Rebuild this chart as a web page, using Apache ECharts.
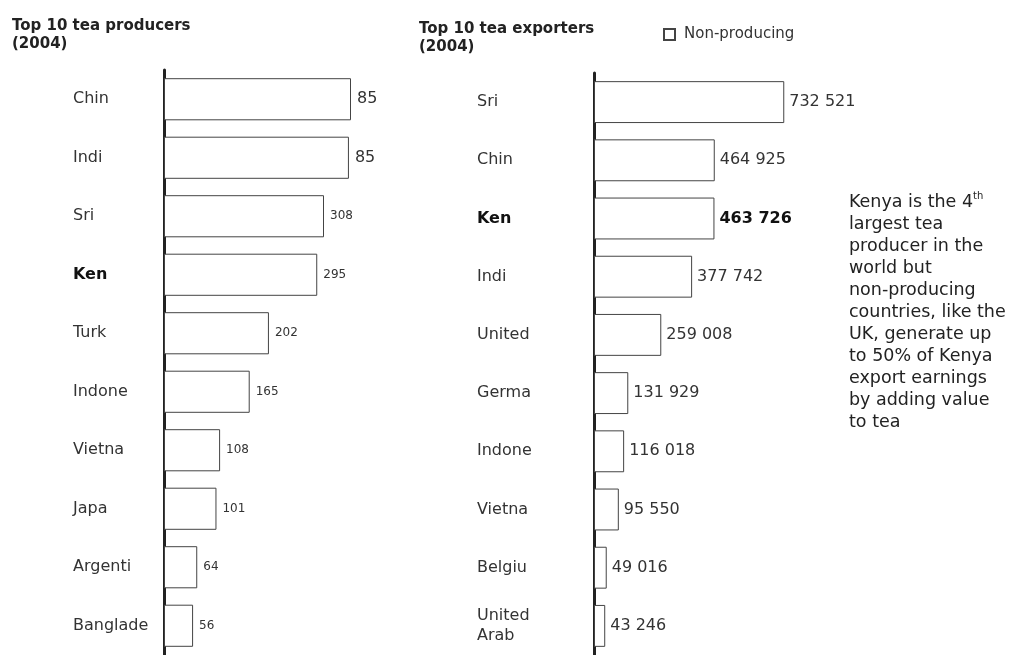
<!DOCTYPE html>
<html>
<head>
    <meta charset="utf-8">
    <title>Top 10 tea producers and exporters</title>
    <script src="https://cdn.jsdelivr.net/npm/echarts@6/dist/echarts.min.js"></script>
</head>
<body style="margin:0;background:#fff;">
    <div id="main" style="width: 1013px;height:655px;"></div>
    <script type="text/javascript">
        var myChart = echarts.init(document.getElementById('main'));

        // producers (2004), bar lengths; printed labels as shown
        var producerNames = ['Chin', 'Indi', 'Sri', 'Ken', 'Turk', 'Indone', 'Vietna', 'Japa', 'Argenti', 'Banglade'];
        var producerValues = [360, 356, 308, 295, 202, 165, 108, 101, 64, 56];
        var producerLabels = ['85', '85', '308', '295', '202', '165', '108', '101', '64', '56'];

        // exporters (2004)
        var exporterNames = ['Sri', 'Chin', 'Ken', 'Indi', 'United', 'Germa', 'Indone', 'Vietna', 'Belgiu', 'United\nArab'];
        var exporterValues = [732521, 464925, 463726, 377742, 259008, 131929, 116018, 95550, 49016, 43246];

        var noteLines = ['Kenya is the 4{sup|th}', 'largest tea', 'producer in the', 'world but', 'non-producing',
            'countries, like the', 'UK, generate up', 'to 50% of Kenya', 'export earnings', 'by adding value', 'to tea'];

        var font = '"DejaVu Sans", Verdana, sans-serif';

        function spaced(v) {
            return String(v).replace(/\B(?=(\d{3})+(?!\d))/g, ' ');
        }

        var barStyle = {
            color: '#fff',
            borderColor: '#444',
            borderWidth: 1
        };

        var titleStyle = { fontSize: 15, fontWeight: 'bold', color: '#222', lineHeight: 18, fontFamily: font };

        option = {
            backgroundColor: '#fff',
            textStyle: { fontFamily: font },
            animation: false,
            title: [{
                text: 'Top 10 tea producers\n(2004)',
                left: 12,
                top: 17,
                padding: 0,
                textStyle: titleStyle
            }, {
                text: 'Top 10 tea exporters\n(2004)',
                left: 419,
                top: 20,
                padding: 0,
                textStyle: titleStyle
            }, {
                text: noteLines.join('\n'),
                left: 849,
                top: 191,
                padding: 0,
                textStyle: {
                    fontSize: 17.5, fontWeight: 'normal', color: '#222', lineHeight: 22, fontFamily: font,
                    rich: { sup: { fontSize: 10, verticalAlign: 'top', lineHeight: 12, color: '#222' } }
                }
            }],
            legend: {
                data: ['Non-producing'],
                left: 663,
                top: 27,
                padding: 0,
                icon: 'rect',
                itemWidth: 11,
                itemHeight: 11,
                itemGap: 6,
                textStyle: { fontSize: 15, color: '#333', fontFamily: font, padding: [0, 0, 0, 4] }
            },
            grid: [{
                left: 164, top: 70, width: 200, height: 586
            }, {
                left: 594, top: 73, width: 200, height: 587
            }],
            xAxis: [{
                type: 'value', min: 0, max: 385, show: false, splitLine: { show: false }
            }, {
                type: 'value', min: 0, max: 770000, gridIndex: 1, show: false, splitLine: { show: false }
            }],
            yAxis: [{
                type: 'category',
                inverse: true,
                data: producerNames,
                axisTick: { show: false },
                axisLine: { lineStyle: { color: '#222', width: 3 } },
                axisLabel: {
                    align: 'left', margin: 91, fontSize: 16, color: '#333', fontFamily: font,
                    formatter: function (v) { return v === 'Ken' ? '{b|' + v + '}' : v; },
                    rich: { b: { fontWeight: 'bold', color: '#111', fontSize: 16 } }
                }
            }, {
                type: 'category',
                inverse: true,
                gridIndex: 1,
                data: exporterNames,
                axisTick: { show: false },
                axisLine: { lineStyle: { color: '#222', width: 3 } },
                axisLabel: {
                    align: 'left', margin: 117, fontSize: 16, color: '#333', lineHeight: 20, fontFamily: font,
                    formatter: function (v) { return v === 'Ken' ? '{b|' + v + '}' : v; },
                    rich: { b: { fontWeight: 'bold', color: '#111', fontSize: 16 } }
                }
            }],
            series: [{
                name: 'Producers',
                type: 'bar',
                barCategoryGap: '28%',
                itemStyle: barStyle,
                label: {
                    show: true,
                    position: 'right',
                    distance: 6,
                    color: '#333',
                    fontFamily: font,
                    formatter: function (p) { return producerLabels[p.dataIndex]; }
                },
                data: producerValues.map(function (v, i) {
                    return { value: v, label: { fontSize: i < 2 ? 16 : 12 } };
                })
            }, {
                name: 'Non-producing',
                type: 'bar',
                xAxisIndex: 1,
                yAxisIndex: 1,
                barCategoryGap: '28%',
                itemStyle: barStyle,
                label: {
                    show: true,
                    position: 'right',
                    distance: 5,
                    fontSize: 16,
                    color: '#333',
                    fontFamily: font,
                    formatter: function (p) { return spaced(p.value); }
                },
                data: exporterValues.map(function (v, i) {
                    return exporterNames[i] === 'Ken'
                        ? { value: v, label: { fontWeight: 'bold', color: '#111' } }
                        : v;
                })
            }]
        };

        myChart.setOption(option);
    </script>
</body>
</html>
